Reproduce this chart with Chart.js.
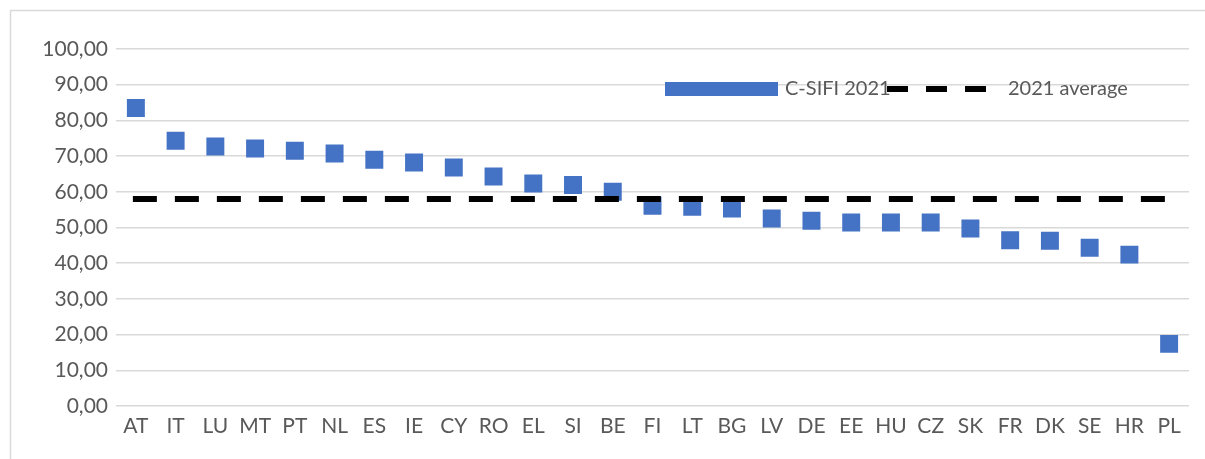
<!DOCTYPE html>
<html>
<head>
<meta charset="utf-8">
<script src="https://cdn.jsdelivr.net/npm/chart.js@4"></script>
<style>
  html, body { margin: 0; padding: 0; background: #fff; }
  #wrap { position: relative; width: 1205px; height: 459px; }
</style>
</head>
<body>
<div id="wrap"><canvas id="chart" width="1205" height="459"></canvas></div>
<script>
// country codes along the x axis
const countries = ["AT", "IT", "LU", "MT", "PT", "NL", "ES", "IE", "CY", "RO", "EL", "SI", "BE",
  "FI", "LT", "BG", "LV", "DE", "EE", "HU", "CZ", "SK", "FR", "DK", "SE", "HR", "PL"];

// C-SIFI 2021 score per country
const csifi2021 = [83.5, 74.3, 72.7, 72.1, 71.5, 70.7, 69.0, 68.2, 66.8, 64.3, 62.3, 61.9, 60.0,
  56.1, 55.8, 55.3, 52.5, 51.9, 51.4, 51.4, 51.4, 49.7, 46.4, 46.3, 44.3, 42.4, 17.4];

// 2021 average (flat line)
const average2021 = 58.0;

const yTicks = [0, 10, 20, 30, 40, 50, 60, 70, 80, 90, 100];

const fontFamily = "Lato, 'Open Sans', sans-serif";
const tickFont = { family: fontFamily, size: 21 };
const textColor = "#595959";

// frame around the chart and the legend at the top right
const decorations = {
  id: "decorations",
  beforeDraw(chart) {
    const ctx = chart.ctx;
    ctx.save();
    ctx.strokeStyle = "#d9d9d9";
    ctx.lineWidth = 1.5;
    ctx.strokeRect(10.5, 10.5, 1220, 470);
    ctx.restore();
  },
  afterDraw(chart) {
    const ctx = chart.ctx;
    ctx.save();
    ctx.fillStyle = "#4472c4";
    ctx.fillRect(665, 82, 113, 14);

    ctx.font = "20px " + fontFamily;
    ctx.fillStyle = textColor;
    ctx.textBaseline = "middle";
    ctx.fillText("C-SIFI 2021", 785, 89);

    ctx.strokeStyle = "#000";
    ctx.lineWidth = 6;
    ctx.setLineDash([21, 18]);
    ctx.beginPath();
    ctx.moveTo(887, 89);
    ctx.lineTo(987, 89);
    ctx.stroke();

    ctx.fillText("2021 average", 1008, 89);
    ctx.restore();
  }
};

const ctx = document.getElementById("chart").getContext("2d");
new Chart(ctx, {
  type: "line",
  data: {
    labels: countries,
    datasets: [
      {
        label: "2021 average",
        data: countries.map(() => average2021),
        borderColor: "#000",
        borderWidth: 6,
        borderDash: [18, 24],
        borderCapStyle: "square",
        pointRadius: 0,
        order: 0
      },
      {
        label: "C-SIFI 2021",
        data: csifi2021,
        showLine: false,
        pointStyle: "rect",
        pointRadius: 12.7,
        pointBorderWidth: 0,
        backgroundColor: "#4472c4",
        borderColor: "#4472c4",
        order: 1
      }
    ]
  },
  options: {
    responsive: false,
    animation: false,
    layout: { padding: { left: 0, top: 49, right: 16, bottom: 0 } },
    plugins: {
      legend: { display: false },
      tooltip: { enabled: false }
    },
    scales: {
      x: {
        offset: true,
        grid: { display: false, drawTicks: false },
        border: { display: false },
        ticks: { color: textColor, font: tickFont, padding: 8, maxRotation: 0, autoSkip: false },
        afterFit: (scale) => { scale.height = 53; }
      },
      y: {
        min: 0,
        max: 100,
        afterBuildTicks: (scale) => { scale.ticks = yTicks.map((v) => ({ value: v })); },
        grid: { color: "#d9d9d9", lineWidth: 1.5, drawTicks: false },
        border: { display: false },
        ticks: {
          color: textColor,
          font: tickFont,
          padding: 8,
          callback: (v) => v.toFixed(2).replace(".", ",")
        },
        afterFit: (scale) => { scale.width = 116; }
      }
    }
  },
  plugins: [decorations]
});
</script>
</body>
</html>
